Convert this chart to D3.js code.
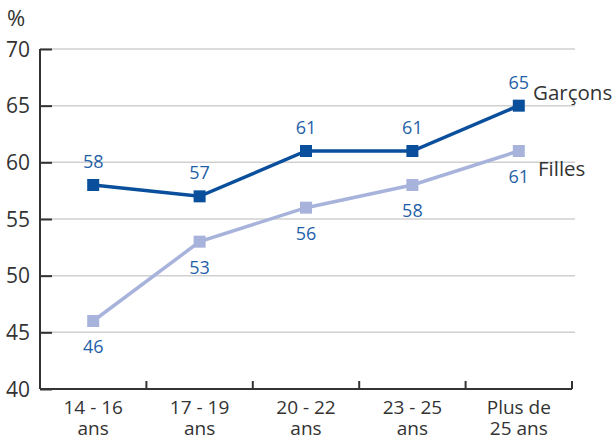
<!DOCTYPE html>
<html>
<head>
<meta charset="utf-8">
<script src="https://cdn.jsdelivr.net/npm/d3@7"></script>
<style>
  html, body { margin: 0; padding: 0; background: #fff; }
  svg { display: block; font-family: "Open Sans", "Noto Sans", sans-serif; }
</style>
</head>
<body>
<svg id="chart" width="615" height="440"></svg>
<script>
// Age groups (two-line labels)
const categories = ["14 - 16|ans", "17 - 19|ans", "20 - 22|ans", "23 - 25|ans", "Plus de|25 ans"];
const garcons = [58, 57, 61, 61, 65];
const filles = [46, 53, 56, 58, 61];
const yTicks = [40, 45, 50, 55, 60, 65, 70];

const svg = d3.select("#chart");
const margin = { left: 40, right: 43, top: 49, bottom: 51 };
const W = 615, H = 440;

const x = d3.scaleBand().domain(categories).range([margin.left, W - margin.right]);
const y = d3.scaleLinear().domain([40, 70]).range([H - margin.bottom, margin.top]);

const textColor = "#333333";
const dark = "#0a4f9c";
const light = "#a7b3db";
const valueColor = "#1f5fa8";

// Horizontal grid
svg.append("g")
  .selectAll("line")
  .data(yTicks.filter(d => d > 40))
  .join("line")
  .attr("x1", margin.left)
  .attr("x2", W - margin.right + 3)
  .attr("y1", d => y(d))
  .attr("y2", d => y(d))
  .attr("stroke", "#d0d0d0")
  .attr("stroke-width", 1.5);

// Y axis
const yAxis = svg.append("g")
  .attr("transform", `translate(${margin.left},0)`)
  .call(d3.axisRight(y).tickValues(yTicks).tickSize(12).tickFormat(""));
yAxis.select(".domain").attr("stroke", textColor).attr("stroke-width", 2).attr("d", `M0,${y(70)}V${y(40)}`);
yAxis.selectAll(".tick line").attr("stroke", textColor).attr("stroke-width", 2);

svg.append("g")
  .selectAll("text")
  .data(yTicks)
  .join("text")
  .attr("x", 30)
  .attr("y", d => y(d))
  .attr("dy", "0.36em")
  .attr("text-anchor", "end")
  .attr("fill", textColor)
  .attr("font-size", 21)
  .text(d => d);

svg.append("text")
  .attr("x", 7)
  .attr("y", 26)
  .attr("fill", textColor)
  .attr("font-size", 22)
  .text("%");

// X axis with boundary ticks
const xAxis = svg.append("g")
  .attr("transform", `translate(0,${y(40)})`);
xAxis.append("line")
  .attr("x1", margin.left).attr("x2", W - margin.right)
  .attr("stroke", textColor).attr("stroke-width", 2);
const bounds = categories.map(c => x(c) + x.bandwidth());
xAxis.selectAll("line.tick")
  .data(bounds)
  .join("line")
  .attr("class", "tick")
  .attr("x1", d => d).attr("x2", d => d)
  .attr("y1", 0).attr("y2", -8)
  .attr("stroke", textColor).attr("stroke-width", 2);

const xl = svg.append("g")
  .selectAll("text")
  .data(categories)
  .join("text")
  .attr("x", d => x(d) + x.bandwidth() / 2)
  .attr("y", y(40) + 25)
  .attr("text-anchor", "middle")
  .attr("fill", textColor)
  .attr("font-size", 19);
xl.each(function(d) {
  const parts = d.split("|");
  d3.select(this).selectAll("tspan")
    .data(parts)
    .join("tspan")
    .attr("x", x(d) + x.bandwidth() / 2)
    .attr("dy", (p, i) => i === 0 ? 0 : 21)
    .text(p => p);
});

const cx = (d, i) => x(categories[i]) + x.bandwidth() / 2;
const line = d3.line().x(cx).y(d => y(d));

function drawSeries(values, color, width, labelBelow) {
  svg.append("path")
    .datum(values)
    .attr("d", line)
    .attr("fill", "none")
    .attr("stroke", color)
    .attr("stroke-width", width);
  svg.append("g")
    .selectAll("rect")
    .data(values)
    .join("rect")
    .attr("x", (d, i) => cx(d, i) - 6)
    .attr("y", d => y(d) - 6)
    .attr("width", 12)
    .attr("height", 12)
    .attr("fill", color);
  svg.append("g")
    .selectAll("text")
    .data(values)
    .join("text")
    .attr("x", cx)
    .attr("y", d => y(d) + (labelBelow ? 32 : -17))
    .attr("text-anchor", "middle")
    .attr("fill", valueColor)
    .attr("font-size", 18)
    .text(d => d);
}

drawSeries(filles, light, 3.5, true);
drawSeries(garcons, dark, 3.5, false);

// Series names
svg.append("text")
  .attr("x", 533).attr("y", y(garcons[4]) - 6)
  .attr("fill", textColor).attr("font-size", 20.5)
  .text("Garçons");
svg.append("text")
  .attr("x", 538).attr("y", y(filles[4]) + 25)
  .attr("fill", textColor).attr("font-size", 20.5)
  .text("Filles");
</script>
</body>
</html>
